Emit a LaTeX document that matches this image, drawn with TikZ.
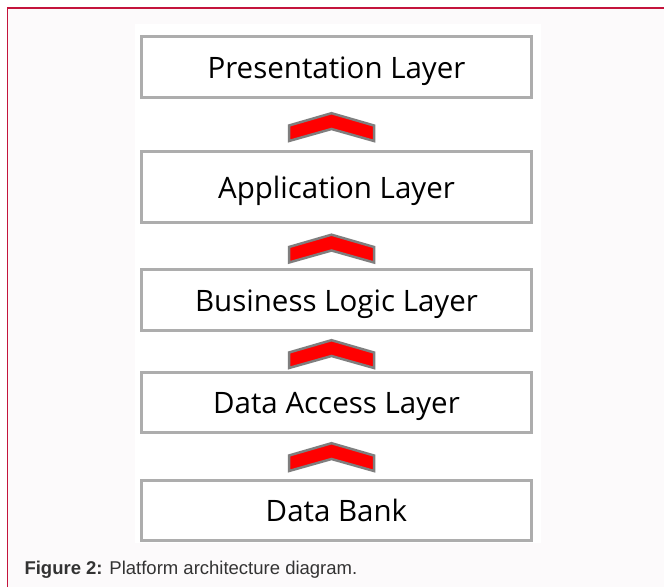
\documentclass[tikz,border=0pt]{standalone}
\usepackage{fontspec}
\setmainfont{Open Sans}
\newfontfamily\capfont{Liberation Sans}
\usetikzlibrary{calc}
\definecolor{bgpink}{HTML}{FCFAFB}
\definecolor{framered}{HTML}{C4143C}
\definecolor{boxgray}{HTML}{ADADAD}
\definecolor{chevgray}{HTML}{7F7F7F}
\definecolor{chevred}{HTML}{FF0000}
\definecolor{captext}{HTML}{333333}
\tikzset{
  layerbox/.style={draw=boxgray, line width=3pt, fill=white, rectangle,
    minimum width=390pt, inner sep=0pt, text height=22.8pt, text depth=0pt,
    font=\fontsize{29.5}{35}\selectfont, text=black},
  chevron/.pic={
    \path[fill=chevred, draw=chevgray, line width=2.5pt, line join=miter]
      (-42.5,-1.5) -- (0,-13.8) -- (42.5,-1.5) -- (42.5,14) -- (0,2) -- (-42.5,14) -- cycle;
  }
}
\begin{document}
\begin{tikzpicture}[x=1pt,y=-1pt]
\useasboundingbox (0,0) rectangle (664,587);
\fill[white] (0,0) rectangle (664,587);
\fill[bgpink] (7.5,8) rectangle (664,587);
\draw[framered, line width=1.5pt] (7.5,587) -- (7.5,8) -- (664,8);
\fill[white] (135,24) rectangle (541,543);

\node[layerbox, minimum height=61pt] (b1) at (336.5,67) {Presentation Layer};
\node[layerbox, minimum height=71pt] (b2) at (336.5,187) {Application Layer};
\node[layerbox, minimum height=61pt] (b3) at (336.5,300) {Business Logic Layer};
\node[layerbox, minimum height=60pt] (b4) at (336.5,402.5) {Data Access Layer};
\node[layerbox, minimum height=60pt] (b5) at (336.5,510.5) {Data Bank};

\pic at ($($(b1.south)!0.5!(b2.north)$)+(-5,2.5)$) {chevron};
\pic at ($($(b2.south)!0.5!(b3.north)$)+(-5,2.5)$) {chevron};
\pic at ($($(b3.south)!0.5!(b4.north)$)+(-5,2.5)$) {chevron};
\pic at ($($(b4.south)!0.5!(b5.north)$)+(-5,0.5)$) {chevron};

\node[anchor=base west, inner sep=0pt, text=captext, font=\capfont\fontsize{18.5}{22}\selectfont] (cap) at (24.3,574)
  {\textbf{Figure 2:} Platform architecture diagram.};
\end{tikzpicture}
\end{document}
